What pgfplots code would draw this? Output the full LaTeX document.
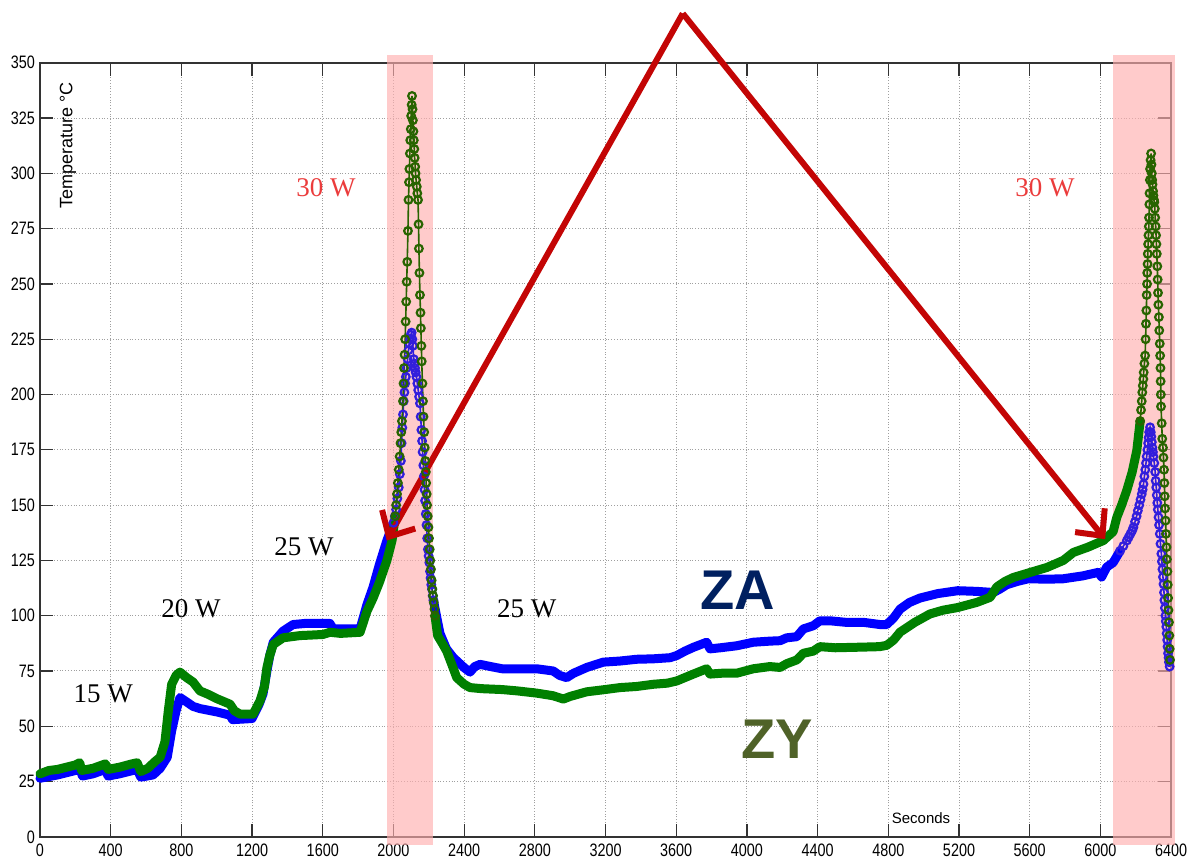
\documentclass[border=0pt]{standalone}
\usepackage{fontspec}
\setmainfont{Liberation Serif}
\newfontfamily\sansf{Liberation Sans}
\newfontfamily\tickf{Liberation Sans}[FakeStretch=0.8]
\usepackage{pgfplots}
\pgfplotsset{compat=1.18}
\usetikzlibrary{arrows.meta}
\definecolor{zaB}{RGB}{0,0,255}
\definecolor{zyG}{RGB}{0,128,0}
\definecolor{zaP}{RGB}{50,30,220}
\definecolor{zyP}{RGB}{40,100,0}
\definecolor{pinkshade}{RGB}{255,175,175}
\definecolor{arrred}{RGB}{195,5,5}
\definecolor{lblred}{RGB}{235,60,60}
\definecolor{zatxt}{RGB}{0,32,96}
\definecolor{zytxt}{RGB}{79,98,40}
\begin{document}
\begin{tikzpicture}
\begin{axis}[
  scale only axis, width=565.5pt, height=387pt,
  xmin=0, xmax=6400, ymin=0, ymax=350,
  xtick={0,400,...,6400}, ytick={0,25,...,350},
  grid=major, major grid style={densely dotted, gray!75, line width=0.5pt},
  tick align=inside, major tick length=6.5pt,
  tick style={gray!40!black, line width=0.6pt},
  axis line style={gray!40!black, line width=0.8pt},
  clip=false,
  /pgf/number format/assume math mode=true,
  /pgf/number format/1000 sep={},
  scaled ticks=false,
  ticklabel style={font=\tickf\fontsize{9}{10}\selectfont},
  yticklabel style={xshift=1pt},
]
\coordinate (BL) at (axis cs:-226.3,-9.5);
\coordinate (TR) at (axis cs:6541,378.4);
\fill[pinkshade, opacity=0.65] (axis cs:1964,-3.8) rectangle (axis cs:2222,353.5);
\fill[pinkshade, opacity=0.65] (axis cs:6072,-3.8) rectangle (axis cs:6420,353.5);

% ZA (blue) main
\addplot[zaB, line width=4.5pt, line join=round, line cap=round] coordinates {
(0,26.5)(100,28)(200,30)(225,31)(240,27.5)(300,28.5)(370,30.5)(385,27.5)(450,28.5)(550,30.5)(570,27)(640,28)(680,31)(720,36)(745,48)(770,57)(792,63)(830,61)(866,59)(905,58)(1000,56.5)(1075,55)(1090,53)(1200,53.5)(1240,60)(1262,64.7)(1284,75)(1300,82)(1320,88)(1375,93)(1432,96)(1500,96.5)(1640,96.5)(1660,94)(1811,94)(1850,105)(1885,113)(1920,123)(1963,134)(2000,142)
};
\addplot[zaB, line width=4.5pt, line join=round, line cap=round] coordinates {
(2226,107)(2263,92)(2300,85)(2339,81)(2400,76.5)(2433,74.5)(2460,77)(2490,78)(2550,77)(2615,76)(2700,76)(2810,76)(2904,75)(2940,73)(2980,72)(3020,74)(3094,76.6)(3187,79)(3282,79.5)(3376,80.3)(3471,80.5)(3565,81)(3603,82)(3650,84)(3697,85.7)(3772,88)(3791,85)(3850,85.5)(3942,86.4)(4036,88)(4130,88.5)(4188,88.7)(4225,90)(4282,90.5)(4319,94)(4376,95.5)(4413,97.7)(4470,97.7)(4560,97)(4659,97)(4753,96)(4791,96)(4830,99)(4867,103)(4920,106)(4980,108)(5080,110)(5193,111.3)(5300,111)(5395,110.5)(5430,112)(5470,114)(5530,115.5)(5592,116.7)(5700,116.5)(5790,116.7)(5900,118)(5988,119.6)(6007,117.5)(6036,122)(6072,124)(6112,129.4)
};
% ZA peaks
\addplot[zaP, line width=0.8pt, mark=o, mark size=1.9pt, mark options={line width=1.1pt}] coordinates {
(2000,142)(2008,145)(2015,148)(2022,153)(2030,158)(2036,164)(2042,170)(2046,178)(2050,185)(2054,191)(2058,197)(2062,201)(2066,205)(2070,208)(2075,212)(2080,216)(2085,220)(2090,223)(2094,225)(2098,227)(2103,228)(2107,225)(2110,222)(2115,216)(2119,214)(2122,212)(2126,210)(2130,208)(2135,205)(2140,202)(2145,199)(2150,196)(2154,190)(2158,184)(2162,179)(2165,174)(2169,168)(2172,163)(2176,157)(2179,152)(2183,146)(2187,141)(2191,135)(2195,130)(2199,127)(2203,124)(2207,120)(2210,117)(2214,114)(2218,112)(2222,109)(2226,107)
};
\addplot[zaP, line width=0.8pt, mark=o, mark size=1.9pt, mark options={line width=1.1pt}] coordinates {
(6112,129.4)(6130,131.5)(6150,134)(6160,135.5)(6170,137)(6180,138.5)(6187,140)(6196,142.5)(6205,145)(6212,147.5)(6220,150)(6227,152.5)(6234,155)(6239,157)(6244,159.5)(6249,163)(6254,166)(6258,169)(6262,172)(6266,175)(6270,178)(6273,180.5)(6276,183)(6281,185.2)(6285,183)(6288,181)(6291,178.5)(6294,176)(6297,174)(6300,172)(6305,169)(6310,165)(6313,161)(6316,158)(6319,154.5)(6322,151)(6325,148)(6329,144.5)(6332,141)(6336,137)(6340,132.5)(6345,128)(6348,124.5)(6351,121)(6354,117.5)(6357,114.3)(6360,110.5)(6362,107)(6365,103.5)(6368,100)(6370,97.5)(6373,95)(6375,92)(6378,89)(6380,86)(6383,83)(6386,81)(6388,79)(6392,77)
};

% ZY (green) main
\addplot[zyG, line width=4.5pt, line join=round, line cap=round] coordinates {
(0,28.5)(50,30)(100,30.5)(150,31.5)(200,32.5)(225,33.5)(235,30)(300,31)(370,33)(385,30.5)(450,31.5)(520,33)(550,33.5)(570,29.5)(610,31)(650,34)(680,36)(707,43)(726,57)(745,69)(770,73)(792,74.5)(830,72)(866,70)(905,66)(950,64.5)(1000,62.5)(1075,60)(1100,57)(1132,55.5)(1206,55.5)(1245,61.5)(1270,68)(1284,76.5)(1300,82)(1320,87)(1375,90)(1471,91)(1600,91.5)(1641,92.5)(1700,92)(1811,92.5)(1850,102)(1885,108)(1920,115)(1963,125)(1992,134)(2010,145)
};
\addplot[zyG, line width=4.5pt, line join=round, line cap=round] coordinates {
(2235,100)(2250,91)(2280,87)(2301,84)(2330,78)(2358,72)(2400,69)(2433,67.5)(2500,67)(2615,66.6)(2700,66)(2810,65)(2904,63.8)(2961,62.3)(3000,63.5)(3094,65.6)(3187,66.5)(3282,67.5)(3376,68)(3471,69)(3550,69.5)(3603,70.5)(3697,73.6)(3772,76)(3791,73.6)(3860,74)(3942,74)(4036,76)(4130,77)(4188,76.6)(4225,78.3)(4282,80)(4319,83)(4376,84)(4413,86)(4500,85.5)(4659,85.8)(4750,86)(4791,86.6)(4830,89)(4867,92.6)(4950,97)(5036,100.8)(5110,102.5)(5193,103.7)(5300,106)(5376,108.3)(5414,113)(5460,115.5)(5508,117.3)(5600,119.5)(5697,121.8)(5790,125)(5847,128.6)(5930,131)(6017,134)(6072,138)(6093,144.5)(6120,150)(6149,156.6)(6180,165)(6206,174.7)(6225,188)
};
% ZY peaks
\addplot[zyP, line width=0.8pt, mark=o, mark size=1.9pt, mark options={line width=1.1pt}] coordinates {
(2010,145)(2015,150)(2020,155)(2025,160)(2030,166)(2035,172)(2040,178)(2044,183)(2048,188)(2054,197)(2057,205)(2060,212)(2063,218)(2066,225)(2069,233)(2072,242)(2075,251)(2078,260)(2082,274)(2085,288)(2088,296)(2090,302)(2093,309)(2095,315)(2098,320)(2100,326)(2103,331)(2105,335)(2108,329)(2110,324)(2113,319)(2115,315)(2118,311)(2120,307)(2123,303)(2125,300)(2128,297)(2132,294)(2135,291)(2139,288)(2142,277)(2144,266)(2147,255)(2150,245)(2153,237)(2155,230)(2158,222)(2160,215)(2164,205)(2167,197)(2170,190)(2174,183)(2177,176)(2180,170)(2183,165)(2185,160)(2188,155)(2190,150)(2194,145)(2198,140)(2201,135)(2205,130)(2208,125)(2212,121)(2216,116)(2220,112)(2224,109)(2228,106)(2232,103)(2235,100)
};
\addplot[zyP, line width=0.8pt, mark=o, mark size=1.9pt, mark options={line width=1.1pt}] coordinates {
(6225,188)(6230,193)(6234,197)(6237,201)(6240,204)(6243,207)(6245,210)(6249,214)(6253,217.6)(6256,225)(6258,232)(6260,238)(6262,245)(6264,250)(6265,255)(6267,259)(6268,263.6)(6270,268)(6272,272)(6274,276)(6275,280)(6277,286)(6278,291)(6280,297)(6281,302)(6284,306)(6287,309)(6289,304)(6291,300)(6293,297)(6295,295)(6298,292)(6300,290)(6303,288)(6305,287)(6308,284)(6310,280)(6313,276)(6315,272)(6317,268)(6319,263.6)(6322,258)(6324,252)(6326,246)(6328,240.6)(6331,235)(6333,229)(6336,223)(6338,217.6)(6340,212)(6341,206)(6342,200)(6343,194.6)(6347,187)(6350,180)(6354,176)(6357,171.5)(6360,166)(6362,160)(6364,154)(6366,148.5)(6369,143)(6371,137)(6374,131)(6376,125.5)(6379,120)(6381,114)(6383,108)(6385,102.5)(6388,97)(6390,91)(6392,85)(6394,80)
};

% arrows
\draw[arrred, line width=3pt, -{Straight Barb[length=10pt,width=19pt]}] (axis cs:3637,372.3) -- (axis cs:1962,134);
\draw[arrred, line width=3pt, -{Straight Barb[length=10pt,width=19pt]}] (axis cs:3637,372.3) -- (axis cs:6027,134.6);

% labels
\node[rotate=90, font=\sansf\fontsize{9}{10}\selectfont] at (axis cs:158,312.7) {Temperature °C};
\node[font=\sansf\fontsize{7.5}{8}\selectfont] at (axis cs:4985,8.6) {Seconds};
\node[font=\fontsize{13.5}{14}\selectfont] at (axis cs:358,64.7) {15 W};
\node[font=\fontsize{13.5}{14}\selectfont] at (axis cs:854,103) {20 W};
\node[font=\fontsize{13.5}{14}\selectfont] at (axis cs:1494,131.3) {25 W};
\node[font=\fontsize{13.5}{14}\selectfont] at (axis cs:2754,103.2) {25 W};
\node[lblred, font=\fontsize{13.5}{14}\selectfont] at (axis cs:1618,293.7) {30 W};
\node[lblred, font=\fontsize{13.5}{14}\selectfont] at (axis cs:5687,293.7) {30 W};
\node[zatxt, font=\sansf\bfseries\fontsize{28}{30}\selectfont] at (axis cs:3946,111.3) {ZA};
\node[zytxt, font=\sansf\bfseries\fontsize{28}{30}\selectfont] at (axis cs:4169,44.2) {ZY};
\end{axis}
\pgfresetboundingbox
\path (BL) rectangle (TR);
\end{tikzpicture}
\end{document}
